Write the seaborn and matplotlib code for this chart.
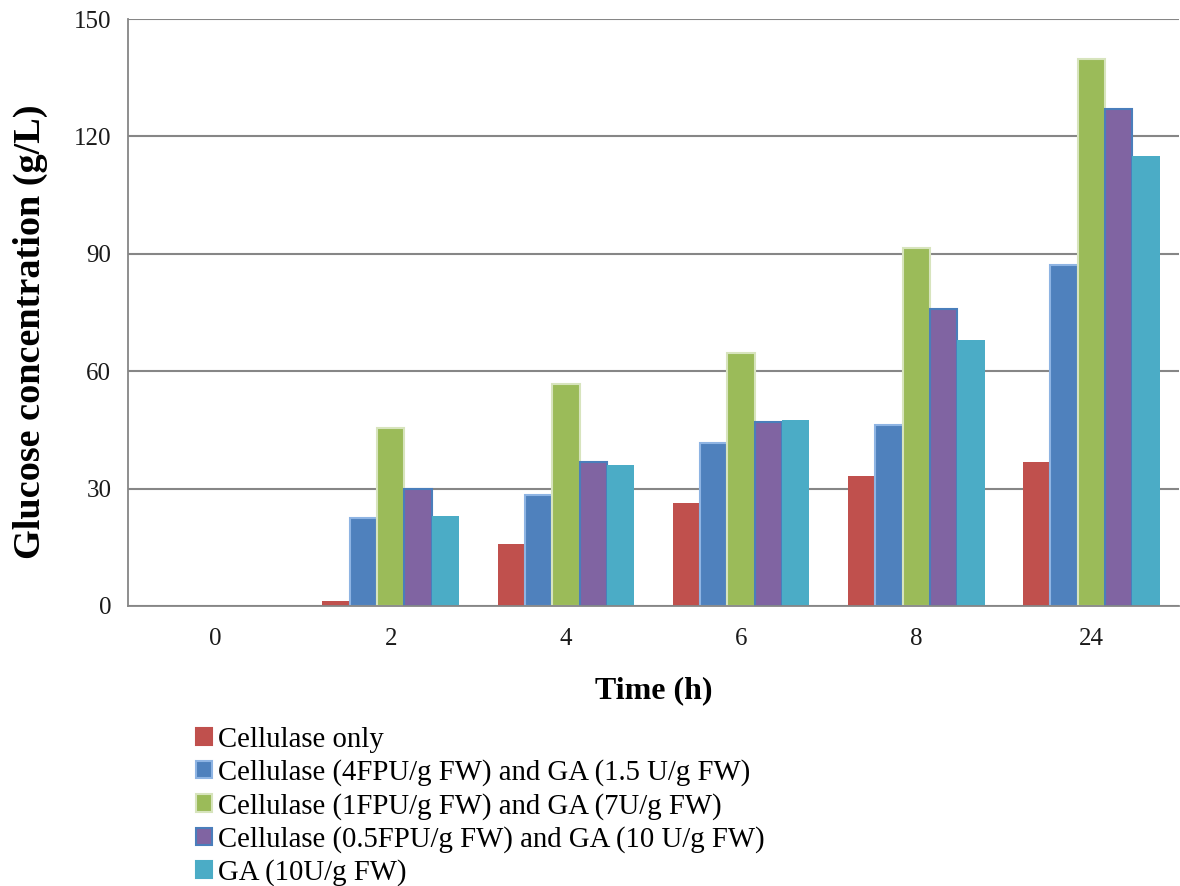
import numpy as np
import pandas as pd
import matplotlib
matplotlib.use("Agg")
import matplotlib.pyplot as plt
import seaborn as sns

# Hydrolysis time points (h)
times = ["0", "2", "4", "6", "8", "24"]

# Enzyme treatments
treatments = [
    "Cellulase only",
    "Cellulase (4FPU/g FW) and GA (1.5 U/g FW)",
    "Cellulase (1FPU/g FW) and GA (7U/g FW)",
    "Cellulase (0.5FPU/g FW) and GA (10 U/g FW)",
    "GA (10U/g FW)",
]

# Glucose concentration (g/L) per treatment
cellulase_only = [0.0, 1.2, 15.8, 26.3, 33.2, 36.9]
cell4_ga15 = [0.0, 22.4, 28.4, 41.7, 46.2, 87.1]
cell1_ga7 = [0.0, 45.4, 56.8, 64.6, 91.6, 139.9]
cell05_ga10 = [0.0, 29.9, 36.7, 46.9, 75.8, 127.1]
ga10 = [0.0, 23.1, 36.0, 47.5, 68.1, 115.0]

series = [cellulase_only, cell4_ga15, cell1_ga7, cell05_ga10, ga10]

fill_colors = ["#C0504D", "#4F81BD", "#9BBB59", "#8064A2", "#4BACC6"]
edge_colors = ["#C0504D", "#8EB4E3", "#D7E4BD", "#4A7EBB", "#4BACC6"]
edge_widths = [0.0, 1.5, 1.5, 1.5, 0.0]

df = pd.DataFrame({
    "time": np.tile(times, len(treatments)),
    "treatment": np.repeat(treatments, len(times)),
    "glucose": np.concatenate(series),
})

sns.set_style("white")
plt.rcParams["font.family"] = ["Liberation Serif", "DejaVu Serif"]
plt.rcParams["text.color"] = "black"
plt.rcParams["axes.labelcolor"] = "black"
plt.rcParams["xtick.labelcolor"] = "#1a1a1a"
plt.rcParams["ytick.labelcolor"] = "#1a1a1a"

fig = plt.figure(figsize=(11.8, 8.86), dpi=100)
ax = fig.add_axes([128 / 1180, 1 - 606 / 886, 1051 / 1180, (606 - 19) / 886])

sns.barplot(
    data=df, x="time", y="glucose", hue="treatment",
    order=times, hue_order=treatments,
    palette=fill_colors, saturation=1, width=0.78, gap=0,
    errorbar=None, ax=ax,
)

for cont, ec, lw in zip(ax.containers, edge_colors, edge_widths):
    for bar in cont:
        bar.set_edgecolor(ec)
        bar.set_linewidth(lw)
        if bar.get_height() == 0:
            bar.set_visible(False)

grid_grey = "#868686"
ax.set_ylim(0, 150)
ax.set_xlim(-0.5, len(times) - 0.5)
ax.set_yticks(np.arange(0, 151, 30))
ax.yaxis.grid(True, color=grid_grey, linewidth=1.5)
ax.xaxis.grid(False)
ax.set_axisbelow(True)

for side in ["top", "right"]:
    ax.spines[side].set_visible(False)
for side in ["left", "bottom"]:
    ax.spines[side].set_color(grid_grey)
    ax.spines[side].set_linewidth(1.3)

# Category boundaries carry the x tick marks, labels sit at centres
ax.set_xticks(np.arange(-0.5, len(times), 1.0), minor=True)
ax.tick_params(axis="x", which="minor", direction="inout", length=14,
               width=1.3, color=grid_grey)
ax.tick_params(axis="x", which="major", length=0, pad=16, labelsize=18)
ax.tick_params(axis="y", which="major", direction="out", length=6,
               width=1.3, color=grid_grey, pad=6, labelsize=18)

ax.set_xlabel("Time (h)", fontsize=23, fontweight="bold", labelpad=19)
ax.set_ylabel("Glucose concentration (g/L)", fontsize=27.5,
              fontweight="bold")
ax.yaxis.set_label_coords(-0.076, 0.467)

handles, labels = ax.get_legend_handles_labels()
ax.get_legend().remove()
for h, fc, ec in zip(handles, fill_colors, edge_colors):
    h.set_facecolor(fc)
    h.set_edgecolor(ec)
    h.set_linewidth(1.5)

fig.legend(
    handles, labels, loc="upper left",
    bbox_to_anchor=(196 / 1180, 1 - 727 / 886),
    frameon=False, fontsize=20.7, handlelength=0.55, handleheight=0.55,
    handletextpad=0.2, labelspacing=0.22, borderaxespad=0, borderpad=0,
)

fig.savefig("out.png", dpi=100)
